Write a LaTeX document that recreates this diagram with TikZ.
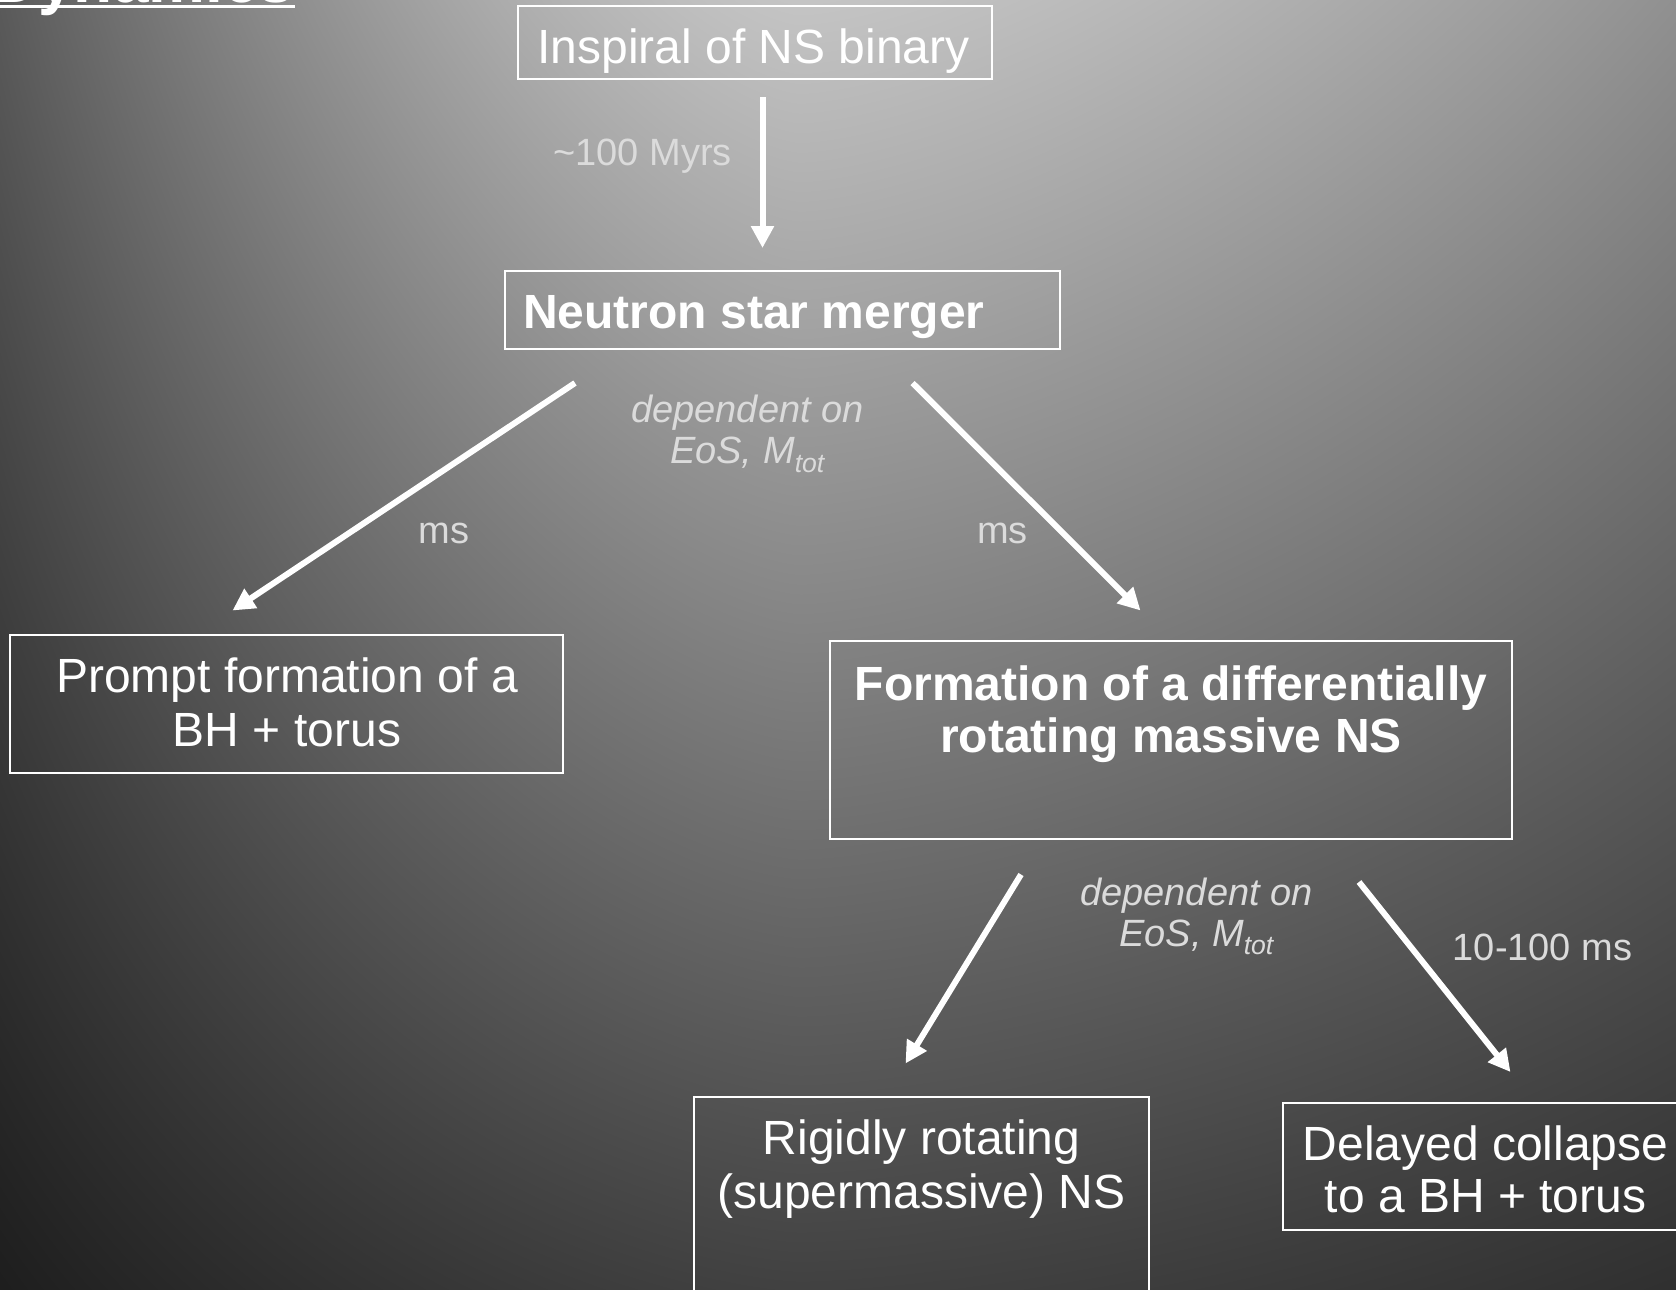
\documentclass[tikz,border=0pt]{standalone}
\usepackage{fontspec}
\setmainfont{Liberation Sans}
\usetikzlibrary{arrows.meta}
\definecolor{lblgray}{gray}{0.86}
\pgfdeclarefunctionalshading{bgshade}{\pgfpoint{-10bp}{-10bp}}{\pgfpoint{1686bp}{1299bp}}{}{
  exch dup 800 sub dup 0 lt {neg 800 div 1.5 exp 106 mul} {876 div 1.5 exp 52 mul} ifelse
  196 exch sub exch pop exch 0.00051978 mul 0.33 add mul 255 div dup dup }
\begin{document}
\begin{tikzpicture}[x=1bp,y=-1bp,
  box/.style={draw=white, line width=2bp, inner sep=0pt, rectangle},
  arr/.style={white, line width=6bp, -{Triangle[width=22bp,length=22bp]}},
  txt/.style={white, inner sep=0pt, anchor=base, font=\fontsize{48bp}{54bp}\selectfont},
  lbl/.style={text=lblgray, inner sep=0pt, anchor=base, font=\fontsize{38bp}{41bp}\selectfont},
  dep/.style={text=lblgray, inner sep=0pt, anchor=base, font=\fontsize{38bp}{41bp}\selectfont\itshape}]
\useasboundingbox (0,0) rectangle (1676,1289);
\clip (0,0) rectangle (1676,1289);
\node[inner sep=0pt, anchor=north west] (bg) at (-10,-10) {\pgfuseshading{bgshade}};

% title (cut off at the top edge, as in the reference)
\node[white, anchor=base west, inner sep=0pt, font=\fontsize{64bp}{70bp}\selectfont\bfseries] (title) at (-8,2.5) {Dynamics};
\draw[white, line width=2.5bp] ([yshift=-4bp]title.base west) -- ([yshift=-4bp]title.base east);

% boxes
\node[box, minimum width=473.4bp, minimum height=73.3bp] (ins) at (755.1,42.35) {};
\node[box, minimum width=554.9bp, minimum height=78.3bp] (merger) at (782.05,310.15) {};
\node[box, minimum width=553.7bp, minimum height=138.3bp] (prompt) at (286.45,704.15) {};
\node[box, minimum width=681.5bp, minimum height=197.7bp] (form) at (1170.75,740.15) {};
\node[box, minimum width=455bp, minimum height=213.3bp] (rigid) at (921.5,1203.35) {};
\node[box, minimum width=404.4bp, minimum height=127.3bp] (delayed) at (1485.5,1166.35) {};

% box texts
\node[txt] (inst) at (753.5,63.3) {Inspiral of NS binary};
\node[txt, anchor=base west, font=\fontsize{48bp}{54bp}\selectfont\bfseries] (mergert) at (523,328.3) {Neutron star merger};
\node[txt] (promptt) at (287,692.7) {\parbox[t]{600bp}{\centering Prompt formation of a\\BH + torus}};
\node[txt, font=\fontsize{48bp}{52bp}\selectfont\bfseries] (formt) at (1171,700) {\parbox[t]{700bp}{\centering Formation of a differentially\\rotating massive NS}};
\node[txt] (rigidt) at (921.5,1154) {\parbox[t]{500bp}{\centering Rigidly rotating\\(supermassive) NS}};
\node[txt, font=\fontsize{48bp}{52bp}\selectfont] (delayedt) at (1485.5,1160) {\parbox[t]{500bp}{\centering Delayed collapse\\to a BH + torus}};

% labels
\node[lbl] (myrs) at (642.6,165) {\textasciitilde 100 Myrs};
\node[lbl] (ms1) at (444,543.3) {ms};
\node[lbl] (ms2) at (1002.5,543.3) {ms};
\node[lbl] (ms3) at (1542.5,960) {10-100 ms};
\node[dep] (dep1) at (747.5,422.7) {\parbox[t]{300bp}{\centering dependent on\\EoS, M\textsubscript{tot}}};
\node[dep] (dep2) at (1196.5,905) {\parbox[t]{300bp}{\centering dependent on\\EoS, M\textsubscript{tot}}};

% arrow end points
\coordinate (a1s) at (762.5,97);   \coordinate (a1e) at (762.5,248);
\coordinate (a2s) at (575,383);    \coordinate (a2e) at (232.5,610.5);
\coordinate (a3s) at (912.5,383);  \coordinate (a3e) at (1140.5,610.5);
\coordinate (a4s) at (1021,874.5); \coordinate (a4e) at (905.5,1063.5);
\coordinate (a5s) at (1359,882);   \coordinate (a5e) at (1510.5,1072);

\draw[arr] (a1s) -- (a1e);
\draw[arr] (a2s) -- (a2e);
\draw[arr] (a3s) -- (a3e);
\draw[arr] (a4s) -- (a4e);
\draw[arr] (a5s) -- (a5e);
\end{tikzpicture}
\end{document}
